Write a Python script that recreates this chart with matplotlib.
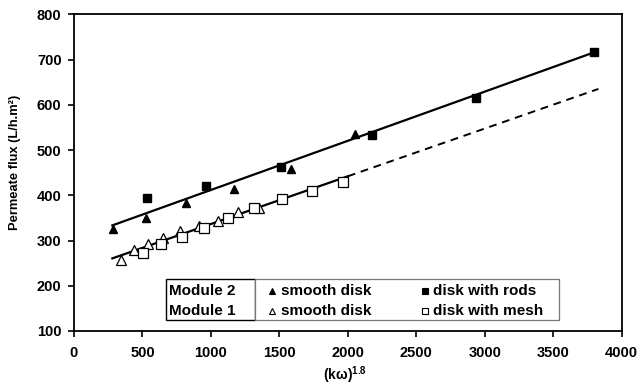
import matplotlib
matplotlib.use("Agg")
import matplotlib.pyplot as plt
import numpy as np
from matplotlib.patches import Rectangle
from matplotlib.lines import Line2D

# Module 2 (filled markers)
m2_smooth_x = [283, 524, 816, 1171, 1583, 2055]
m2_smooth_y = [326, 349, 382, 413, 458, 535]
m2_rods_x = [531, 962, 1512, 2180, 2936, 3798]
m2_rods_y = [395, 420, 462, 533, 614, 717]

# Module 1 (open markers)
m1_smooth_x = [343, 438, 543, 652, 777, 911, 1050, 1200, 1354]
m1_smooth_y = [258, 278, 292, 305, 322, 331, 343, 363, 372]
m1_mesh_x = [502, 633, 787, 947, 1127, 1315, 1522, 1739, 1967]
m1_mesh_y = [272, 292, 308, 328, 350, 372, 391, 409, 429]

# linear fits (slope, intercept) and their ranges
fit2 = (0.1087, 303)
fit2_range = [280, 3800]
fit1 = (0.1055, 231)
fit1_solid = [280, 2000]
fit1_dash = [2000, 3830]

x_ticks = [0, 500, 1000, 1500, 2000, 2500, 3000, 3500, 4000]
y_ticks = [100, 200, 300, 400, 500, 600, 700, 800]

plt.rcParams['font.family'] = ['Liberation Sans', 'DejaVu Sans']
plt.rcParams['font.weight'] = 'bold'
plt.rcParams['mathtext.fontset'] = 'custom'
plt.rcParams['mathtext.bf'] = 'Liberation Sans:bold'
plt.rcParams['mathtext.rm'] = 'Liberation Sans:bold'

fig = plt.figure(figsize=(6.42, 3.85), dpi=100)
ax = fig.add_axes([74 / 642, 1 - 331 / 385, 547.7 / 642, 316.7 / 385])


def line(fit, xr):
    xs = np.array(xr, dtype=float)
    return xs, fit[0] * xs + fit[1]


xs, ys = line(fit2, fit2_range)
ax.plot(xs, ys, color='black', lw=1.6, zorder=2)
xs, ys = line(fit1, fit1_solid)
ax.plot(xs, ys, color='black', lw=1.6, zorder=2)
xs, ys = line(fit1, fit1_dash)
ax.plot(xs, ys, color='black', lw=1.4, ls=(0, (4, 3)), zorder=2)

ax.plot(m2_smooth_x, m2_smooth_y, '^', color='black', ms=6, ls='none', zorder=3)
ax.plot(m2_rods_x, m2_rods_y, 's', color='black', ms=6, ls='none', zorder=3)
ax.plot(m1_smooth_x, m1_smooth_y, '^', mfc='white', mec='black', mew=0.9, ms=6.5, ls='none', zorder=3)
ax.plot(m1_mesh_x, m1_mesh_y, 's', mfc='white', mec='black', mew=0.9, ms=6.5, ls='none', zorder=3)

ax.set_xlim(0, 4000)
ax.set_ylim(100, 800)
ax.set_xticks(x_ticks)
ax.set_yticks(y_ticks)
ax.tick_params(direction='out', length=4, width=1.2, labelsize=10.5, pad=5)
ax.tick_params(axis='x', pad=7)
for lab in ax.get_xticklabels() + ax.get_yticklabels():
    lab.set_fontweight('bold')
for sp in ax.spines.values():
    sp.set_linewidth(1.3)

fig.text(345 / 642, 1 - 375 / 385, r'(kω)$^{\mathbf{1.8}}$', ha='center', va='center',
         fontsize=10, fontweight='bold')
fig.text(15 / 642, 1 - 162 / 385, 'Permeate flux (L/h.m²)', rotation=90,
         ha='center', va='center', fontsize=9.3, fontweight='bold')

# custom legend
def axf(px, py):
    return (px - 74) / 547.7, (331 - py) / 316.7

x0, y0 = axf(166, 320)
x1, y1 = axf(255, 279.3)
ax.add_patch(Rectangle((x0, y0), x1 - x0, y1 - y0, transform=ax.transAxes,
                       facecolor='white', edgecolor='black', lw=1.0, zorder=5))
x2, _ = axf(559, 0)
ax.add_patch(Rectangle((x1, y0), x2 - x1, y1 - y0, transform=ax.transAxes,
                       facecolor='white', edgecolor='#777777', lw=0.9, zorder=5))

rows = [("Module 2", 290.7, '^', 'black', 'smooth disk', 's', 'black', 'disk with rods'),
        ("Module 1", 310.7, '^', 'white', 'smooth disk', 's', 'white', 'disk with mesh')]
for name, py, m1, f1, t1, m2, f2, t2 in rows:
    tx, ty = axf(169, py)
    ax.text(tx, ty, name, transform=ax.transAxes, ha='left', va='center',
            fontsize=11, fontweight='bold', zorder=6)
    mx, _ = axf(272, py)
    ax.add_line(Line2D([mx], [ty], marker=m1, mfc=f1, mec='black', mew=0.8, ms=4.5,
                       transform=ax.transAxes, zorder=6))
    tx, _ = axf(281, py)
    ax.text(tx, ty, t1, transform=ax.transAxes, ha='left', va='center',
            fontsize=11, fontweight='bold', zorder=6)
    mx, _ = axf(425, py)
    ax.add_line(Line2D([mx], [ty], marker=m2, mfc=f2, mec='black', mew=0.8, ms=4.5,
                       transform=ax.transAxes, zorder=6))
    tx, _ = axf(433, py)
    ax.text(tx, ty, t2, transform=ax.transAxes, ha='left', va='center',
            fontsize=11, fontweight='bold', zorder=6)

fig.savefig('out.png', dpi=100)
